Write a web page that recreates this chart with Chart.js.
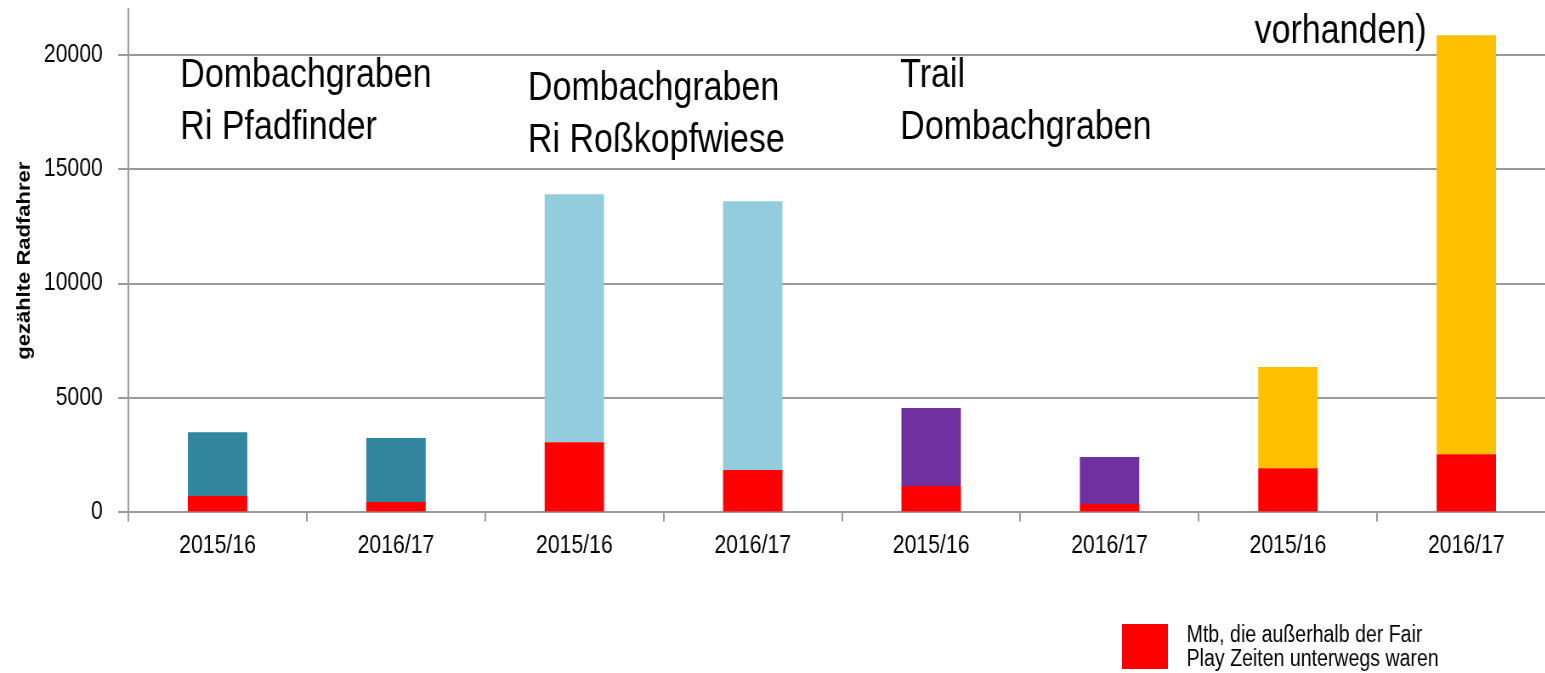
<!DOCTYPE html>
<html lang="de">
<head>
<meta charset="utf-8">
<title>gezählte Radfahrer</title>
<script src="https://cdn.jsdelivr.net/npm/chart.js@4/dist/chart.umd.min.js"></script>
<style>
  html, body { margin: 0; padding: 0; background: #fff; overflow: hidden; }
  /* the reference text is slightly narrowed, so the whole chart is squeezed horizontally */
  #wrap { position: absolute; left: 0; top: 0; width: 1830px; height: 673px; transform: scaleX(0.85); transform-origin: 0 0; }
</style>
</head>
<body>
<div id="wrap"><canvas id="chart" width="1830" height="673"></canvas></div>
<script>
// ------------------------------------------------------------
// Daten
// ------------------------------------------------------------
const categories = ['2015/16', '2016/17', '2015/16', '2016/17', '2015/16', '2016/17', '2015/16', '2016/17'];

// Mtb außerhalb der Fair Play Zeiten (roter Sockel)
const outsideFairPlay = [720, 450, 3070, 1850, 1150, 370, 1930, 2540];

// restliche Radfahrer je Zählstelle (oberer Teil der Säule)
const pfadfinder     = [2780, 2800, null, null, null, null, null, null];
const rosskopfwiese  = [null, null, 10830, 11750, null, null, null, null];
const trail          = [null, null, null, null, 3410, 2050, null, null];
const fourthStation  = [null, null, null, null, null, null, 4420, 18310];

const yTicks = [0, 5000, 10000, 15000, 20000];

const FONT = '"Liberation Sans", Arial, sans-serif';
const GRID = '#9a9a9a';

// Beschriftungen im Diagramm
const notes = [
  { lines: ['Dombachgraben', 'Ri Pfadfinder'],   x: 212,  y: 87 },
  { lines: ['Dombachgraben', 'Ri Roßkopfwiese'], x: 621,  y: 100 },
  { lines: ['Trail', 'Dombachgraben'],           x: 1059, y: 87 },
  { lines: ['vorhanden)'],                       x: 1476, y: 43 }
];

const notesPlugin = {
  id: 'notes',
  afterDraw(chart) {
    const ctx = chart.ctx;
    ctx.save();
    ctx.fillStyle = '#000';
    ctx.textAlign = 'left';
    ctx.textBaseline = 'alphabetic';
    ctx.font = '40px ' + FONT;
    notes.forEach(n => {
      n.lines.forEach((t, i) => ctx.fillText(t, n.x, n.y + i * 52));
    });

    // Legende (nur der rote Eintrag ist sichtbar)
    const ds = chart.data.datasets[0];
    ctx.fillStyle = ds.backgroundColor;
    ctx.fillRect(1320, 624, 54, 45);
    ctx.fillStyle = '#000';
    ctx.font = '23px ' + FONT;
    ctx.fillText('Mtb, die außerhalb der Fair', 1396, 642);
    ctx.fillText('Play Zeiten unterwegs waren', 1396, 666);
    ctx.restore();
  }
};

new Chart(document.getElementById('chart'), {
  type: 'bar',
  data: {
    labels: categories,
    datasets: [
      { label: 'Mtb, die außerhalb der Fair Play Zeiten unterwegs waren', data: outsideFairPlay, backgroundColor: '#FF0000' },
      { label: 'Dombachgraben Ri Pfadfinder',   data: pfadfinder,    backgroundColor: '#31859C' },
      { label: 'Dombachgraben Ri Roßkopfwiese', data: rosskopfwiese, backgroundColor: '#93CDDD' },
      { label: 'Trail Dombachgraben',           data: trail,         backgroundColor: '#7030A0' },
      { label: 'Zählstelle 4',                  data: fourthStation, backgroundColor: '#FFC000' }
    ]
  },
  options: {
    responsive: false,
    animation: false,
    layout: { padding: { top: 9, left: 0, right: 0, bottom: 0 } },
    datasets: { bar: { barPercentage: 0.333, categoryPercentage: 1.0, borderWidth: 0 } },
    plugins: { legend: { display: false }, tooltip: { enabled: false } },
    scales: {
      x: {
        stacked: true,
        ticks: { color: '#000', font: { size: 25, family: FONT }, padding: 10, maxRotation: 0, autoSkip: false },
        grid: { drawOnChartArea: false, color: GRID, lineWidth: 2, tickLength: 9 },
        border: { display: true, color: GRID, width: 2 },
        afterFit: s => { s.height = 160.6; s.paddingLeft = 0; s.paddingRight = 0; }
      },
      y: {
        stacked: true,
        min: 0,
        max: 22000,
        ticks: { color: '#000', font: { size: 25, family: FONT }, padding: 18, callback: v => String(v) },
        afterBuildTicks: s => { s.ticks = yTicks.map(v => ({ value: v })); },
        grid: { color: GRID, lineWidth: 2, tickLength: 12 },
        border: { display: true, color: GRID, width: 2 },
        title: { display: true, text: 'gezählte Radfahrer', color: '#000', font: { size: 22, weight: 'bold', family: FONT }, padding: { top: 16, bottom: 0 } },
        afterFit: s => { s.width = 151; s.paddingTop = 0; s.paddingBottom = 0; }
      }
    }
  },
  plugins: [notesPlugin]
});
</script>
</body>
</html>
